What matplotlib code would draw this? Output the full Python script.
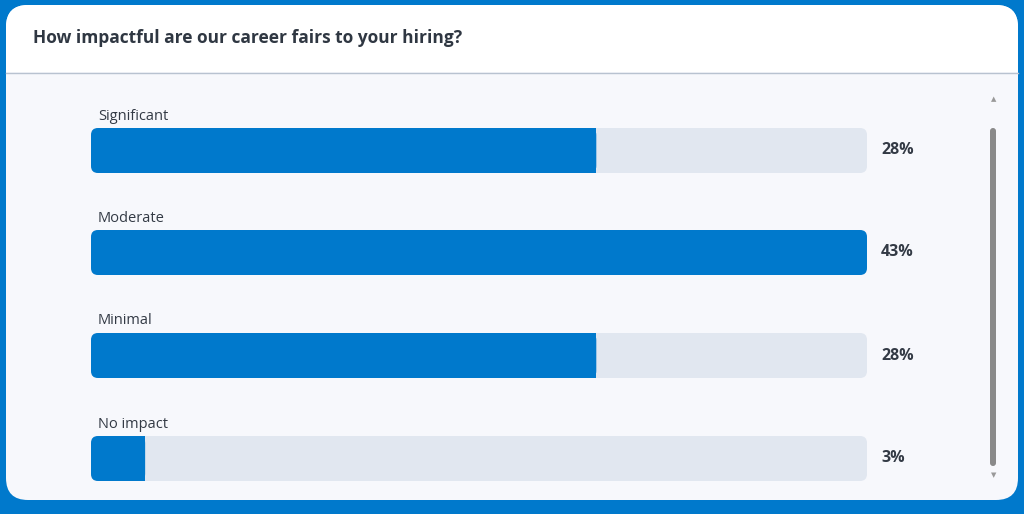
import matplotlib
matplotlib.use("Agg")
import matplotlib.pyplot as plt
from matplotlib.patches import FancyBboxPatch

categories = ["Significant", "Moderate", "Minimal", "No impact"]
values = [28, 43, 28, 3]
labels = ["28%", "43%", "28%", "3%"]

plt.rcParams['font.family'] = ['Open Sans', 'DejaVu Sans']
fig = plt.figure(figsize=(10.24, 5.14), dpi=100)
fig.patch.set_facecolor("#0079cc")
ax = fig.add_axes([0, 0, 1, 1])
ax.set_xlim(0, 1024); ax.set_ylim(514, 0); ax.axis("off")

# card
ax.add_patch(FancyBboxPatch((6, 5), 1012, 495, boxstyle="round,pad=0,rounding_size=22",
                            fc="#f7f8fc", ec="none"))
ax.add_patch(FancyBboxPatch((6, 5), 1012, 67, boxstyle="round,pad=0,rounding_size=22",
                            fc="white", ec="none"))
ax.add_patch(plt.Rectangle((6, 40), 1012, 32, fc="white", ec="none"))
ax.plot([6, 1018], [72.5, 72.5], color="#b8c2d0", lw=1)
ax.text(33, 38, "How impactful are our career fairs to your hiring?", fontsize=12.5,
        fontweight="bold", color="#2f3742", va="center")

# scrollbar
ax.add_patch(FancyBboxPatch((990, 128), 6, 338, boxstyle="round,pad=0,rounding_size=3",
                            fc="#8a8a8a", ec="none"))
ax.text(994, 100, "▲", fontsize=5, color="#999999", ha="center", va="center")
ax.text(994, 476, "▼", fontsize=5, color="#999999", ha="center", va="center")

x0, x1 = 91, 867
vmax = max(values)
tops = [128, 230, 333, 436]
h = 45
for cat, v, lab, t in zip(categories, values, labels, tops):
    ax.add_patch(FancyBboxPatch((x0, t), x1 - x0, h, boxstyle="round,pad=0,rounding_size=7",
                                fc="#e1e7f0", ec="none"))
    w = v / vmax * (x1 - x0)
    bar = FancyBboxPatch((x0, t), w, h, boxstyle="round,pad=0,rounding_size=7",
                         fc="#0079cc", ec="none")
    ax.add_patch(bar)
    if w < x1 - x0:
        ax.add_patch(plt.Rectangle((x0 + w - 8, t), 8, h, fc="#0079cc", ec="none"))
    ax.text(98, t - 12, cat, fontsize=10.5, color="#333a45", va="center")
    ax.text(881, t + h / 2, lab, fontsize=11.5, fontweight="bold", color="#333a45", va="center")

fig.savefig("out.png", dpi=100, facecolor=fig.get_facecolor())
